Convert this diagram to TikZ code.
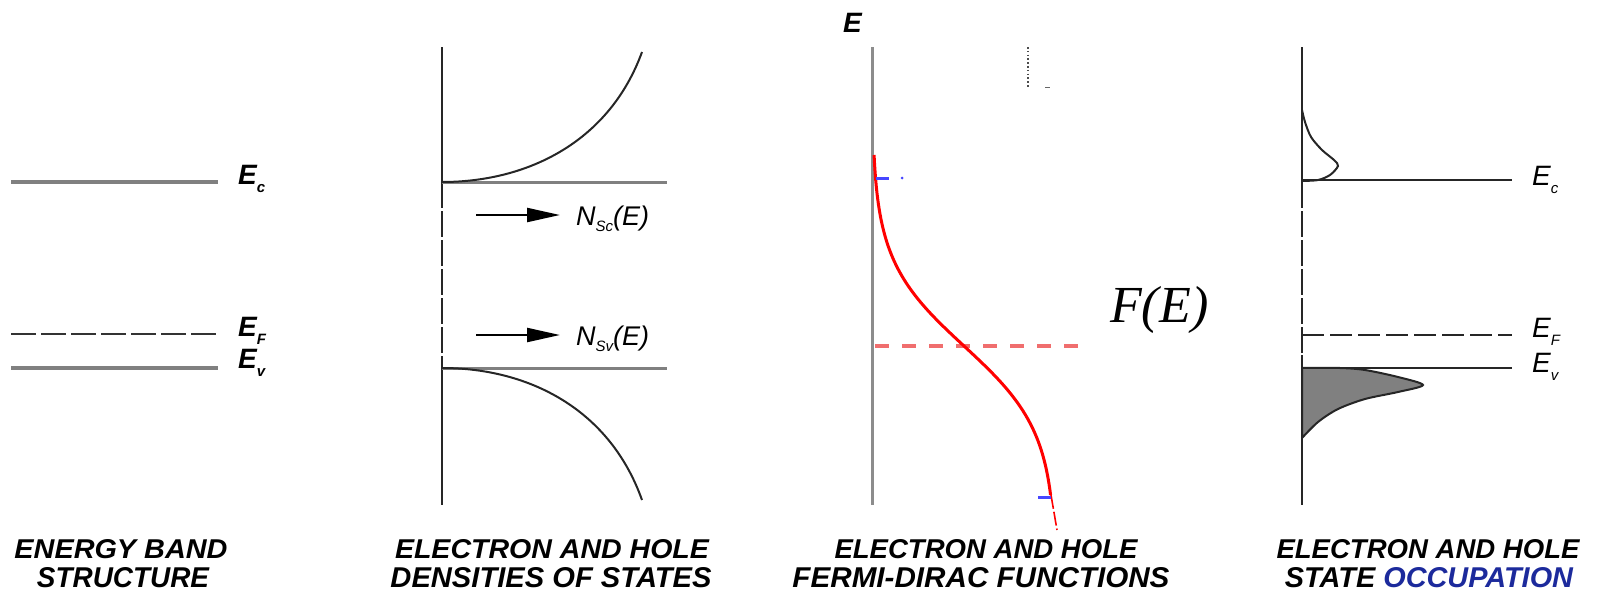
\documentclass[tikz,border=0pt]{standalone}
\usepackage{graphicx}
\usepackage{fontspec}
\setmainfont{Liberation Serif}
\setsansfont{Liberation Sans}
\usetikzlibrary{arrows.meta}
\definecolor{fdred}{RGB}{240,110,110}
\definecolor{occblue}{RGB}{28,42,156}
\definecolor{mkblue}{RGB}{70,70,255}
\newcommand\lsub[2][8]{\raisebox{-#1pt}{\fontsize{15}{15}\selectfont #2}}
\newcommand\captxt[3]{\resizebox{#1pt}{#2pt}{\sffamily\bfseries\itshape #3}}
\begin{document}
\begin{tikzpicture}[x=1pt,y=-1pt,
  band/.style={line width=3.5pt, black!50},
  axisline/.style={line width=2.2pt, black!85},
  gapdash/.style={dash pattern=on 26pt off 3pt},
  curve/.style={line width=2pt, black!85},
  labb/.style={anchor=base west, inner sep=0pt, font=\sffamily\bfseries\itshape\fontsize{28}{28}\selectfont},
  labr/.style={anchor=base west, inner sep=0pt, font=\sffamily\itshape\fontsize{28}{28}\selectfont},
  nlab/.style={anchor=base west, inner sep=0pt, font=\sffamily\itshape\fontsize{27}{27}\selectfont},
  arr/.style={line width=2.2pt, -{Triangle[length=33pt,width=14pt]}},
  captn/.style={anchor=base, inner sep=0pt}
]
\useasboundingbox (0,0) rectangle (1600,597);

% ---------- Panel 1: energy band structure ----------
\draw[band] (11,182) -- (218,182);
\draw[line width=2.5pt, black!80, dash pattern=on 25pt off 5pt] (11,334) -- (218,334);
\draw[band] (11,368) -- (218,368);
\node[labb] (ec1) at (238,184) {E\lsub{c}};
\node[labb] (ef1) at (238,336) {E\lsub{F}};
\node[labb] (ev1) at (238,368) {E\lsub{v}};

% ---------- Panel 2: densities of states ----------
\draw[axisline] (442,47) -- (442,182);
\draw[axisline, gapdash] (442,182) -- (442,368);
\draw[axisline] (442,368) -- (442,505);
\draw[band, line width=3pt] (442,182) -- (667,182);
\draw[band, line width=3pt] (442,368) -- (667,368);
\draw[curve] (442,182) .. controls (530,182) and (610,140) .. (642,52);
\draw[curve] (442,368) .. controls (530,368) and (610,410) .. (642,500);
\coordinate (a1s) at (476,215);
\coordinate (a1e) at (560,215);
\coordinate (a2s) at (476,335);
\coordinate (a2e) at (560,335);
\draw[arr] (a1s) -- (a1e);
\draw[arr] (a2s) -- (a2e);
\node[nlab] (nsc) at (576,225) {N\lsub[6]{Sc}(E)};
\node[nlab] (nsv) at (576,345) {N\lsub[6]{Sv}(E)};

% ---------- Panel 3: Fermi-Dirac functions ----------
\draw[line width=3pt, black!45] (872,47) -- (872,505);
\node[labb] (etop) at (843,32) {E};
\draw[black!70, line width=1.6pt, dash pattern=on 1.6pt off 2.2pt] (1028,47) -- (1028,87);
\draw[black!60, line width=1pt] (1045,87) -- (1050,87);
\draw[fdred, line width=4pt, dash pattern=on 14pt off 13pt] (875,346) -- (1083,346);
\draw[red, line width=3pt] plot[domain=155:495, samples=90, variable=\t, smooth] ({872+184/(1+exp(-(\t-346)/42.7))}, \t);
\draw[red, line width=1.6pt, dash pattern=on 14pt off 3pt] (1051,495) -- (1057,530);
\draw[mkblue, line width=3pt] (876,178) -- (889,178);
\fill[mkblue] (902,178) circle (1.5pt);
\draw[mkblue, line width=3pt] (1038,497) -- (1051,497);
\node[anchor=base west, inner sep=0pt, font=\itshape\fontsize{52}{52}\selectfont] (fe) at (1110,322) {F(E)};

% ---------- Panel 4: state occupation ----------
\draw[axisline] (1302,47) -- (1302,182);
\draw[axisline, gapdash] (1302,182) -- (1302,355);
\draw[axisline] (1302,355) -- (1302,505);
\draw[line width=2.5pt, black!85] (1302,180) -- (1512,180);
\draw[line width=2.5pt, black!85, dash pattern=on 22pt off 6pt] (1302,335) -- (1512,335);
\draw[line width=2.5pt, black!85] (1302,368) -- (1512,368);
\draw[curve] plot[smooth] coordinates {(1302,181) (1318,180) (1330,175) (1338,166) (1334,160) (1322,150) (1311,137) (1305,122) (1302,110)};
\filldraw[fill=black!50, draw=black!85, line width=2pt] plot[smooth] coordinates {(1302,368) (1340,368) (1365,370) (1398,377) (1423,385) (1398,392) (1365,399) (1338,409) (1318,422) (1302,438)} -- cycle;
\node[labr] (ec4) at (1532,185) {E\lsub{c}};
\node[labr] (ef4) at (1532,337) {E\lsub{F}};
\node[labr] (ev4) at (1532,372) {E\lsub{v}};

% ---------- Captions ----------
\node[captn] (c1a) at (121,558) {\captxt{213}{19}{ENERGY BAND}};
\node[captn] (c1b) at (123,587) {\captxt{172}{20}{STRUCTURE}};
\node[captn] (c2a) at (552,558) {\captxt{314}{19}{ELECTRON AND HOLE}};
\node[captn] (c2b) at (551,587) {\captxt{321}{20}{DENSITIES OF STATES}};
\node[captn] (c3a) at (986,558) {\captxt{303}{19}{ELECTRON AND HOLE}};
\node[captn] (c3b) at (981,587) {\captxt{377}{20}{FERMI-DIRAC FUNCTIONS}};
\node[captn] (c4a) at (1428,558) {\captxt{303}{19}{ELECTRON AND HOLE}};
\node[captn] (c4b) at (1429,587) {\captxt{288}{20}{STATE \textcolor{occblue}{OCCUPATION}}};
\end{tikzpicture}
\end{document}
